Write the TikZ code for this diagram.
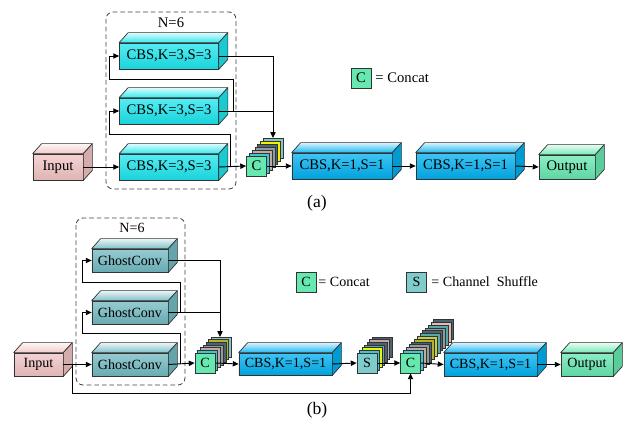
\documentclass[tikz,border=0pt]{standalone}
\usepackage{fontspec}
\setmainfont{Liberation Serif}
\usetikzlibrary{arrows.meta, positioning}
\definecolor{pinkc}{HTML}{F2C4C4}
\definecolor{cyanc}{HTML}{1CE6EE}
\definecolor{bluec}{HTML}{00B0F0}
\definecolor{ghostc}{HTML}{72BAC2}
\definecolor{mintc}{HTML}{66E8B0}
\definecolor{shufc}{HTML}{80CCCC}
\definecolor{lteal}{HTML}{86C6C6}
\definecolor{yelc}{HTML}{F2F200}
\definecolor{olivec}{HTML}{B4B42C}
\definecolor{ygreen}{HTML}{C0D040}
\definecolor{slate}{HTML}{4C6472}
\definecolor{grayc}{HTML}{8C9EA0}
\definecolor{rosy}{HTML}{C4A8A4}
\definecolor{lrosy}{HTML}{E2BCB4}
\definecolor{tealm}{HTML}{58A8A8}
\definecolor{cyanl}{HTML}{3CC8D2}

\begin{document}
\begin{tikzpicture}[x=0.03cm, y=-0.03cm, line width=0.8pt,
    >={Triangle[length=5pt,width=4.5pt]},
    cube/.style={draw=black!80, line width=0.6pt, inner sep=0pt,
        top color=#1!75!white, bottom color=#1!92!black},
    face/.style={draw=black!80, line width=0.6pt, line join=round},
    sq/.style={draw=black!80, line width=0.6pt, fill=#1, inner sep=0pt,
        minimum size=0.6cm},
    layer/.style={draw=black!80, line width=0.4pt},
    group/.style={draw=black!75, dash pattern=on 4pt off 2.5pt,
        line width=0.7pt, rounded corners=6pt},
    fa/.style={font=\fontsize{12.5}{14}\selectfont},
    fb/.style={font=\fontsize{12}{14}\selectfont}]

    \useasboundingbox (0,0) rectangle (633,426);

    % (a)
    \draw[group] (106,12) rectangle (236,189);
    \node[fa] (NA) at (171,23) {N=6};

    \node[cube=pinkc, fa, minimum width=1.5cm, minimum height=0.78cm] (inA) at (58,167) {Input};
    \node[cube=cyanc, fa, minimum width=2.97cm, minimum height=0.78cm] (a1) at (169,56) {CBS,K=3,S=3};
    \node[cube=cyanc, fa, minimum width=2.97cm, minimum height=0.78cm] (a2) at (169,111) {CBS,K=3,S=3};
    \node[cube=cyanc, fa, minimum width=2.97cm, minimum height=0.78cm] (a3) at (169,167) {CBS,K=3,S=3};

    \coordinate (cposA) at (256.5,166);
    \foreach \c [count=\k] in {lteal,yelc,slate,grayc,rosy,cyanl}{
        \pgfmathsetmacro\o{7-\k}
        \filldraw[layer, fill=\c] ([shift={({\o*2.8-10},{-\o*3-10})}]cposA) rectangle ++(20,20);
    }
    \node[sq=mintc, fa] (cA) at (cposA) {C};

    \node[cube=bluec, fa, minimum width=3cm, minimum height=0.78cm] (b1) at (342,166) {CBS,K=1,S=1};
    \node[cube=bluec, fa, minimum width=2.97cm, minimum height=0.78cm] (b2) at (465.5,166) {CBS,K=1,S=1};
    \node[cube=mintc, fa, minimum width=1.68cm, minimum height=0.72cm] (outA) at (567,167) {Output};

    \node[sq=mintc, fa] (legA) at (361,78) {C};
    \node[fa, anchor=west, inner sep=0pt] (legAt) at (375,78) {= Concat};
    \node[font=\fontsize{15}{18}\selectfont] (capA) at (317,203) {(a)};

    % (b)
    \draw[group] (76,218) rectangle (185,385);
    \node[fb] (NB) at (132,228) {N=6};

    \node[cube=pinkc, fb, minimum width=1.47cm, minimum height=0.69cm] (inB) at (38.5,364.5) {Input};
    \node[cube=ghostc, fb, minimum width=2.28cm, minimum height=0.69cm] (g1) at (130,260.5) {GhostConv};
    \node[cube=ghostc, fb, minimum width=2.28cm, minimum height=0.69cm] (g2) at (130,312.5) {GhostConv};
    \node[cube=ghostc, fb, minimum width=2.28cm, minimum height=0.69cm] (g3) at (130,364.5) {GhostConv};

    \coordinate (cposB) at (205,363);
    \foreach \c [count=\k] in {lteal,olivec,slate,grayc,rosy,cyanl}{
        \pgfmathsetmacro\o{7-\k}
        \filldraw[layer, fill=\c] ([shift={({\o*2.7-10},{-\o*2.7-10})}]cposB) rectangle ++(20,20);
    }
    \node[sq=mintc, fb] (cB) at (cposB) {C};

    \node[cube=bluec, fb, minimum width=2.79cm, minimum height=0.66cm] (k1) at (285.5,364) {CBS,K=1,S=1};

    \coordinate (sposB) at (367,363);
    \foreach \c [count=\k] in {slate,rosy,slate,tealm,yelc,cyanl}{
        \pgfmathsetmacro\o{7-\k}
        \filldraw[layer, fill=\c] ([shift={({\o*2.5-10},{-\o*2.7-10})}]sposB) rectangle ++(20,20);
    }
    \node[sq=shufc, fb] (sB) at (sposB) {S};

    \coordinate (dposB) at (410.5,363);
    \foreach \c [count=\k] in {slate,lrosy,tealm,grayc,slate,tealm,ygreen,olivec,slate,grayc,rosy,cyanl}{
        \pgfmathsetmacro\o{13-\k}
        \filldraw[layer, fill=\c] ([shift={({\o*2.75-10},{-\o*2.8-10})}]dposB) rectangle ++(20,20);
    }
    \node[sq=mintc, fb] (dB) at (dposB) {C};

    \node[cube=bluec, fb, minimum width=2.79cm, minimum height=0.69cm] (k2) at (490.5,364.5) {CBS,K=1,S=1};
    \node[cube=mintc, fb, minimum width=1.56cm, minimum height=0.69cm] (outB) at (587,364.5) {Output};

    \node[sq=mintc, fb] (legB) at (306,282) {C};
    \node[fb, anchor=west, inner sep=0pt] (legBt) at (318,282) {= Concat};
    \node[sq=shufc, fb] (legS) at (416.5,282) {S};
    \node[fb, anchor=west, inner sep=0pt] (legSt) at (431,282) {= Channel\ \ Shuffle};
    \node[font=\fontsize{15}{18}\selectfont] (capB) at (317,410) {(b)};

    % 3d faces
    \foreach \n/\c in {inA/pinkc, a1/cyanc, a2/cyanc, a3/cyanc, b1/bluec, b2/bluec,
        outA/mintc, inB/pinkc, g1/ghostc, g2/ghostc, g3/ghostc, k1/bluec, k2/bluec, outB/mintc}{
        \draw[face, top color=\c!15!white, bottom color=\c!90!white]
            (\n.north west) -- ++(9,-10) -- ([shift={(9,-10)}]\n.north east) -- (\n.north east) -- cycle;
        \draw[face, fill=\c!88!black]
            (\n.north east) -- ++(9,-10) -- ([shift={(9,-10)}]\n.south east) -- (\n.south east) -- cycle;
    }

    % connectors (a)
    \coordinate (la) at (230,134);
    \coordinate (lb) at (109,134);
    \coordinate (ua) at (233,79);
    \coordinate (ub) at (109,79);
    \coordinate (topA) at (273,138);
    \draw[->] (inA.east) -- (a3.west);
    \draw[->] (a3.east) -- (cA.west);
    \draw[->] (a3.east -| la) -- (la) -- (lb) |- (a2.west);
    \draw[->] (a2.east -| ua) -- (ua) -- (ub) |- (a1.west);
    \draw (a2.east) -- (a2.east -| topA);
    \draw[->] (a1.east) -| (topA);
    \draw[->] (cA.east) -- (b1.west);
    \draw[->] (b1.east) -- (b2.west);
    \draw[->] (b2.east) -- (outA.west);

    % connectors (b)
    \coordinate (lc) at (180,333);
    \coordinate (ld) at (82,333);
    \coordinate (uc) at (180,282);
    \coordinate (ud) at (82,282);
    \coordinate (topB) at (220,337);
    \coordinate (byp) at (72,393);
    \draw[->] (inB.east) -- (g3.west);
    \draw[->] (g3.east) -- (cB.west);
    \draw[->] (g3.east -| lc) -- (lc) -- (ld) |- (g2.west);
    \draw[->] (g2.east -| uc) -- (uc) -- (ud) |- (g1.west);
    \draw (g2.east) -- (g2.east -| topB);
    \draw[->] (g1.east) -| (topB);
    \draw[->] (inB.east -| byp) -- (byp) -| (dB.south);
    \draw[->] (cB.east) -- (k1.west);
    \draw[->] (k1.east) -- (sB.west);
    \draw[->] (sB.east) -- (dB.west);
    \draw[->] (dB.east) -- (k2.west);
    \draw[->] (k2.east) -- (outB.west);
\end{tikzpicture}
\end{document}
